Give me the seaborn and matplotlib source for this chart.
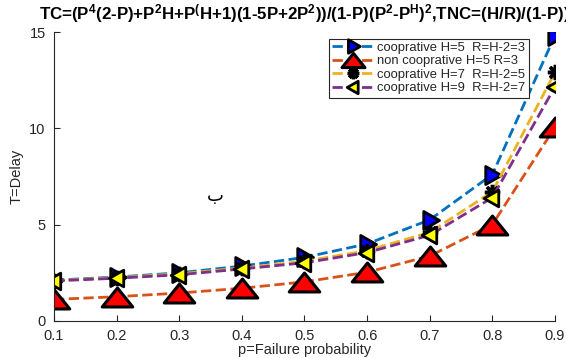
import numpy as np
import pandas as pd
import seaborn as sns
import matplotlib.pyplot as plt
from matplotlib.path import Path

# values
p = [0.1, 0.2, 0.3, 0.4, 0.5, 0.6, 0.7, 0.8, 0.9]
coop_h5 = [2.12, 2.28, 2.50, 2.85, 3.30, 4.00, 5.25, 7.60, 14.8]
noncoop_h5 = [1.12, 1.26, 1.45, 1.70, 2.03, 2.53, 3.37, 5.00, 10.05]
coop_h7 = [2.10, 2.25, 2.45, 2.75, 3.10, 3.65, 4.60, 6.70, 12.9]
coop_h9 = [2.08, 2.22, 2.40, 2.70, 3.02, 3.55, 4.45, 6.40, 12.15]
labels = ['cooprative H=5  R=H-2=3', 'non cooprative H=5 R=3',
          'cooprative H=7  R=H-2=5', 'cooprative H=9  R=H-2=7']
xtick_labels = ['0.1', '0.2', '0.3', '0.4', '0.5', '0.6', '0.7', '0.8', '0.9']

sns.set_style('white')
plt.rcParams['font.family'] = ['Liberation Sans', 'DejaVu Sans']
plt.rcParams['mathtext.fontset'] = 'custom'
plt.rcParams['mathtext.bf'] = 'Liberation Sans:bold'
plt.rcParams['mathtext.rm'] = 'Liberation Sans:bold'
plt.rcParams['mathtext.it'] = 'Liberation Sans:bold'
plt.rcParams['mathtext.default'] = 'bf'

fig = plt.figure(figsize=(5.66, 3.58), dpi=100)
ax = fig.add_axes([0.0954, 0.1034, 0.885, 0.8072])

wide_tri = Path([(0, 0.62), (-1, -0.62), (1, -0.62), (0, 0.62)], closed=True)
right_tri = Path([(1, 0), (-0.75, 1), (-0.75, -1), (1, 0)], closed=True)
left_tri = Path([(-1, 0), (0.75, 1), (0.75, -1), (-1, 0)], closed=True)

df = pd.DataFrame({'p': p, 'h5': coop_h5, 'nc': noncoop_h5, 'h7': coop_h7, 'h9': coop_h9})

sns.lineplot(data=df, x='p', y='h5', ax=ax, color='#0072BD', linestyle='--', lw=2,
             marker=right_tri, ms=13, mfc='blue', mec='k', mew=2, label=labels[0])
sns.lineplot(data=df, x='p', y='nc', ax=ax, color='#D95319', linestyle='--', lw=2,
             marker=wide_tri, ms=22, mfc='red', mec='k', mew=2.2, label=labels[1])
sns.lineplot(data=df, x='p', y='h7', ax=ax, color='#EDB120', linestyle='--', lw=2,
             marker=(8, 2, 0), ms=11, mfc='k', mec='k', mew=2.5, label=labels[2])
sns.lineplot(data=df, x='p', y='h9', ax=ax, color='#7E2F8E', linestyle='--', lw=2,
             marker=left_tri, ms=12, mfc='yellow', mec='k', mew=2, label=labels[3])

ax.set_xlim(0.1, 0.9)
ax.set_ylim(0, 15)
ax.set_xticks(p)
ax.set_xticklabels(xtick_labels)
ax.set_yticks([0, 5, 10, 15])
ax.tick_params(direction='in', length=4, width=0.8, colors='#262626', labelsize=10.5,
               left=True, bottom=True)
ax.tick_params(axis='x', pad=6)
ax.tick_params(axis='y', pad=6)
for s in ['top', 'right']:
    ax.spines[s].set_visible(False)
for s in ['left', 'bottom']:
    ax.spines[s].set_color('#262626')
    ax.spines[s].set_linewidth(0.8)
ax.set_xlabel('p=Failure probability', fontsize=10.5, color='#262626', labelpad=0)
ax.set_ylabel('T=Delay', fontsize=10.5, color='#262626', labelpad=4)

# long title is clipped at the right edge, as in the original
title = (r'TC=($P^4$(2-P)+$P^2$H+$P^{(}$H+1)(1-5P+2$P^2$))/(1-P)($P^2$-$P^H$$)^2$,'
         r'TNC=(H/R)/(1-P))')
ax.text(0.5, 1.025, title, transform=ax.transAxes, ha='center', va='bottom',
        fontsize=12.2, fontweight='bold', color='k')

ax.text(0.357, 6.5, 'ب', fontsize=13, ha='center', va='center',
        family=['DejaVu Sans'], color='k')

leg = ax.legend(loc='upper left', bbox_to_anchor=(0.535, 1.0), fontsize=9.4,
                handlelength=3.2, handletextpad=0.3, borderpad=0.25, labelspacing=0.1,
                markerscale=0.75, frameon=True, fancybox=False, edgecolor='#262626',
                framealpha=1)
leg.get_frame().set_linewidth(0.8)

fig.savefig('out.png', dpi=100)
